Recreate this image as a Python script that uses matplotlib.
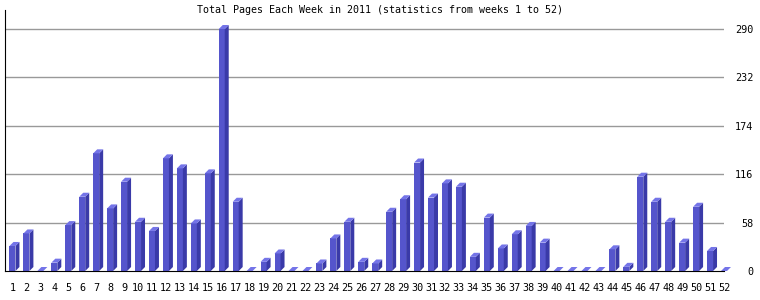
import matplotlib
matplotlib.use("Agg")
import matplotlib.pyplot as plt

# weekly page counts
weeks = list(range(1, 53))
pages = [30, 45, 0, 10, 55, 89, 141, 75, 107, 59,
         48, 135, 123, 57, 117, 290, 83, 0, 11, 21,
         0, 0, 9, 39, 59, 11, 9, 71, 86, 130,
         88, 105, 101, 17, 64, 27, 44, 54, 34, 0,
         0, 0, 0, 26, 5, 113, 83, 59, 34, 77,
         24, 0]
y_ticks = [0, 58, 116, 174, 232, 290]
title = "Total Pages Each Week in 2011 (statistics from weeks 1 to 52)"

front_col = "#5555cc"
side_col = "#3a3aa8"
top_col = "#7474e8"

W, H = 760, 300
fig = plt.figure(figsize=(W / 100, H / 100), dpi=100)

# axes box in pixels: left 5, right 724, baseline 271, top 10
ax = fig.add_axes([5 / W, 29 / H, 719 / W, 261 / H])
ymax = 290 * 261 / 242
ax.set_ylim(0, ymax)
xmin = -7.5 / 14
ax.set_xlim(xmin, xmin + 719 / 14)

bw = 6 / 14          # front face width
dx = 4 / 14          # depth, x
dy = 4 * ymax / 261  # depth, y

for i, v in enumerate(pages):
    x0 = i - bw / 2
    x1 = i + bw / 2
    if v > 0:
        ax.fill([x0, x1, x1, x0], [0, 0, v, v], color=front_col,
                lw=0, zorder=3, clip_on=False)
        ax.fill([x1, x1 + dx, x1 + dx, x1], [0, dy, v + dy, v],
                color=side_col, lw=0, zorder=3, clip_on=False)
    ax.fill([x0, x1, x1 + dx, x0 + dx], [v, v, v + dy, v + dy],
            color=top_col, lw=0, zorder=4, clip_on=False)

for t in y_ticks[1:]:
    ax.axhline(t, color="#999999", lw=1, zorder=1)

for s in ["top", "right"]:
    ax.spines[s].set_visible(False)
ax.spines["left"].set_color("black")
ax.spines["bottom"].set_color("black")
ax.spines["bottom"].set_zorder(5)

ax.set_xticks(range(len(weeks)))
ax.set_xticklabels([str(w) for w in weeks], family="DejaVu Sans Mono",
                   fontsize=7.3)
ax.tick_params(axis="x", length=0, pad=8.5)

ax.yaxis.tick_right()
ax.set_yticks(y_ticks)
ax.set_yticklabels([str(t) for t in y_ticks], family="DejaVu Sans Mono",
                   fontsize=7.3, ha="right")
ax.tick_params(axis="y", length=0, pad=21)

fig.text(380 / W, 1 - 10 / H, title, family="DejaVu Sans Mono",
         fontsize=7.2, ha="center", va="center")

fig.savefig("out.png", dpi=100)
